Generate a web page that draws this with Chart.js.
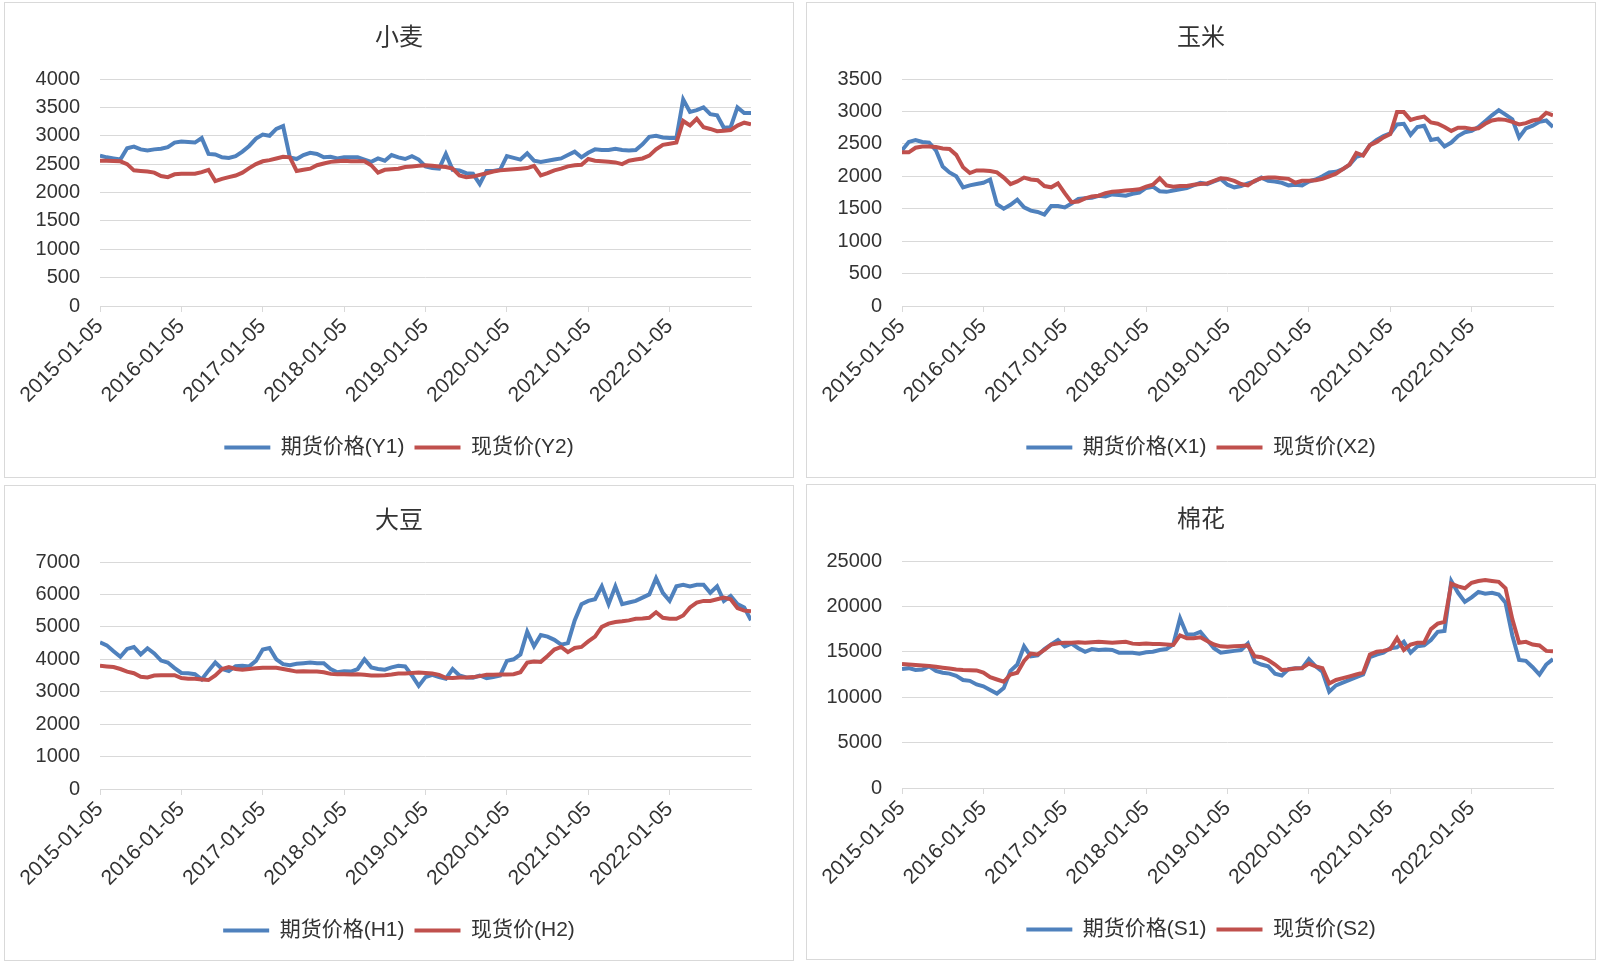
<!DOCTYPE html>
<html>
<head>
<meta charset="utf-8">
<title>期货价格与现货价</title>
<script src="https://cdn.jsdelivr.net/npm/chart.js@4.4.1/dist/chart.umd.min.js"></script>
<style>
  body { margin: 0; background: #fff; width: 1600px; height: 962px; position: relative; overflow: hidden; }
  .panel { position: absolute; width: 788px; height: 474px; border: 1px solid #d9d9d9; background: #fff; }
  .panel canvas { display: block; }
</style>
</head>
<body>
<div class="panel" style="left:4px;top:2px"><canvas id="wheatChart" width="788" height="474"></canvas></div>
<div class="panel" style="left:806px;top:2px"><canvas id="cornChart" width="788" height="474"></canvas></div>
<div class="panel" style="left:4px;top:485px"><canvas id="soyChart" width="788" height="474"></canvas></div>
<div class="panel" style="left:806px;top:484px"><canvas id="cottonChart" width="788" height="474"></canvas></div>

<script>
// x axis: one point per month from 2015-01 to 2023-01 (index 0..96), labels every 12 months
const yearTicks = ['2015-01-05', '2016-01-05', '2017-01-05', '2018-01-05',
                   '2019-01-05', '2020-01-05', '2021-01-05', '2022-01-05'];

// 小麦
const wheatFutures = [
  2650, 2620, 2600, 2580, 2780, 2810, 2760, 2740, 2760, 2770, 2800, 2880,
  2900, 2890, 2880, 2960, 2680, 2670, 2620, 2610, 2640, 2720, 2820, 2950,
  3020, 3000, 3120, 3170, 2620, 2590, 2660, 2700, 2680, 2620, 2630, 2600,
  2620, 2620, 2620, 2580, 2540, 2600, 2560, 2660, 2620, 2590, 2640, 2580,
  2460, 2430, 2420, 2680, 2400, 2390, 2340, 2330, 2150, 2380, 2380, 2400,
  2640, 2610, 2580, 2690, 2560, 2540, 2560, 2580, 2600, 2660, 2720, 2620,
  2700, 2760, 2750, 2750, 2770, 2750, 2740, 2750, 2850, 2980, 3000, 2970,
  2960, 2960, 3640, 3420, 3450, 3500, 3380, 3360, 3140, 3150, 3500, 3400, 3400
];
const wheatSpot = [
  2560, 2560, 2555, 2550, 2500, 2390, 2380, 2370, 2350, 2290, 2270, 2320,
  2330, 2330, 2330, 2360, 2400, 2200, 2240, 2270, 2300, 2350, 2430, 2500,
  2550, 2570, 2600, 2630, 2620, 2380, 2400, 2420, 2480, 2510, 2540, 2550,
  2560, 2550, 2550, 2550, 2480, 2350, 2400, 2410, 2420, 2450, 2460, 2470,
  2480, 2470, 2460, 2450, 2420, 2300, 2270, 2280, 2310, 2340, 2370, 2390,
  2400, 2410, 2420, 2430, 2470, 2300, 2340, 2390, 2420, 2460, 2480, 2490,
  2590, 2560, 2550, 2540, 2530, 2500, 2560, 2580, 2600, 2650, 2760, 2840,
  2860, 2880, 3260, 3180, 3300, 3150, 3120, 3080, 3090, 3100, 3180, 3230, 3200
];

// 玉米
const cornFutures = [
  2400, 2530, 2560, 2530, 2520, 2400, 2150, 2060, 2000, 1830, 1860, 1880,
  1900, 1950, 1570, 1500, 1560, 1640, 1520, 1470, 1450, 1410, 1540, 1540,
  1520, 1580, 1650, 1660, 1670, 1700, 1690, 1720, 1710, 1700, 1730, 1750,
  1820, 1840, 1770, 1760, 1780, 1800, 1820, 1860, 1900, 1880, 1920, 1960,
  1870, 1830, 1850, 1890, 1920, 1980, 1930, 1920, 1900, 1860, 1870, 1860,
  1920, 1950, 2000, 2060, 2070, 2110, 2180, 2300, 2330, 2480, 2560, 2620,
  2660, 2800, 2810, 2640, 2760, 2780, 2560, 2580, 2460, 2520, 2620, 2680,
  2700, 2760, 2850, 2940, 3020, 2950, 2880, 2600, 2740, 2780, 2840, 2860, 2760
];
const cornSpot = [
  2370, 2370, 2440, 2460, 2460, 2450, 2430, 2420, 2330, 2140, 2050, 2090,
  2090, 2080, 2060, 1980, 1880, 1920, 1980, 1950, 1940, 1850, 1830, 1890,
  1740, 1600, 1610, 1660, 1690, 1700, 1740, 1760, 1770, 1780, 1790, 1800,
  1840, 1870, 1970, 1860, 1840, 1850, 1850, 1870, 1880, 1890, 1930, 1970,
  1960, 1930, 1880, 1860, 1930, 1970, 1980, 1980, 1970, 1960, 1900, 1930,
  1930, 1940, 1960, 2000, 2040, 2110, 2180, 2360, 2320, 2480, 2530, 2600,
  2650, 2990, 2990, 2870, 2900, 2920, 2830, 2810, 2760, 2700, 2750, 2750,
  2730, 2740, 2810, 2860, 2880, 2870, 2840, 2800, 2820, 2860, 2880, 2980, 2940
];

// 大豆
const soyFutures = [
  4520, 4430, 4250, 4080, 4320, 4380, 4150, 4340, 4180, 3960, 3900, 3730,
  3580, 3570, 3540, 3380, 3650, 3900, 3700, 3640, 3790, 3800, 3780, 3950,
  4300, 4350, 4000, 3850, 3820, 3860, 3880, 3900, 3880, 3880, 3700, 3600,
  3630, 3620, 3700, 4000, 3750, 3700, 3680, 3750, 3800, 3780, 3500, 3180,
  3450, 3520, 3450, 3400, 3700, 3500, 3440, 3430, 3500, 3420, 3450, 3500,
  3950, 4000, 4150, 4850, 4400, 4750, 4700, 4600, 4450, 4500, 5200, 5700,
  5800, 5850, 6250, 5700, 6250, 5700, 5750, 5800, 5900, 6000, 6500, 6050,
  5800, 6250, 6300, 6250, 6300, 6300, 6050, 6250, 5800, 5950, 5700, 5600, 5200
];
const soySpot = [
  3800, 3780, 3760, 3700, 3620, 3570, 3460, 3440, 3500, 3510, 3510, 3510,
  3420, 3400, 3400, 3380, 3360, 3500, 3700, 3760, 3700, 3680, 3700, 3720,
  3740, 3740, 3740, 3700, 3660, 3620, 3630, 3620, 3620, 3600, 3550, 3540,
  3540, 3530, 3540, 3520, 3500, 3500, 3510, 3530, 3560, 3560, 3580, 3590,
  3580, 3560, 3520, 3430, 3420, 3440, 3440, 3450, 3480, 3520, 3520, 3530,
  3530, 3540, 3600, 3900, 3930, 3920, 4100, 4300, 4380, 4220, 4350, 4380,
  4550, 4700, 5000, 5100, 5150, 5170, 5200, 5250, 5260, 5280, 5450, 5280,
  5250, 5250, 5350, 5600, 5750, 5800, 5800, 5850, 5900, 5850, 5580, 5500, 5480
];

// 棉花
const cottonFutures = [
  13100, 13200, 13000, 13050, 13400, 12900, 12700, 12600, 12350, 11900, 11800, 11400,
  11200, 10800, 10400, 11000, 12900, 13600, 15600, 14500, 14600, 15300, 15800, 16300,
  15600, 15900, 15400, 15000, 15300, 15200, 15250, 15200, 14900, 14900, 14900, 14800,
  14950, 15000, 15200, 15300, 15800, 18700, 16900, 16900, 17200, 16300, 15400, 14900,
  15000, 15100, 15200, 15900, 13900, 13600, 13400, 12600, 12400, 13100, 13200, 13200,
  14200, 13400, 12800, 10600, 11300, 11600, 11900, 12200, 12500, 14400, 14700, 14900,
  15400, 15500, 16100, 14900, 15600, 15700, 16300, 17200, 17300, 22800, 21500, 20500,
  21000, 21600, 21400, 21500, 21300, 20400, 16800, 14100, 14000, 13300, 12500, 13600, 14200
];
const cottonSpot = [
  13650, 13600, 13550, 13500, 13450, 13350, 13250, 13150, 13050, 13000, 12980, 12950,
  12700, 12200, 11950, 11700, 12500, 12700, 14000, 14800, 14700, 15200, 15800, 15950,
  16000, 16000, 16050, 16000, 16050, 16100, 16050, 16000, 16050, 16100, 15900, 15850,
  15900, 15850, 15850, 15800, 15750, 16800, 16500, 16500, 16600, 16200, 15800, 15600,
  15550, 15600, 15650, 15700, 14500, 14400, 14100, 13600, 13000, 13050, 13150, 13200,
  13700, 13400, 13200, 11500, 11900, 12100, 12300, 12500, 12700, 14700, 15000, 15100,
  15300, 16500, 15200, 15800, 16000, 16000, 17500, 18100, 18300, 22500, 22200, 22000,
  22600, 22800, 22900, 22800, 22700, 22000, 18600, 16000, 16100, 15800, 15700, 15100, 15050
];

const BLUE = '#4f81bd';
const RED = '#c0504d';
const GRID = '#d9d9d9';
const TEXT = '#333333';
const LATIN = '"Liberation Sans", Arial, sans-serif';
const CJK = '"Liberation Sans", "Noto Sans CJK SC", sans-serif';

function toPoints(values) {
  return values.map((v, i) => ({ x: i, y: v }));
}

function makeChart(id, title, yMax, yStep, futures, spot, futLabel, spotLabel) {
  const ctx = document.getElementById(id);
  return new Chart(ctx, {
    type: 'line',
    data: {
      datasets: [
        { label: futLabel, data: toPoints(futures), borderColor: BLUE, backgroundColor: BLUE,
          borderWidth: 4, pointRadius: 0, tension: 0, order: 2 },
        { label: spotLabel, data: toPoints(spot), borderColor: RED, backgroundColor: RED,
          borderWidth: 4, pointRadius: 0, tension: 0, order: 1 }
      ]
    },
    options: {
      responsive: false,
      animation: false,
      devicePixelRatio: 1,
      layout: { padding: { left: 0, right: 0, top: 0, bottom: 9 } },
      scales: {
        x: {
          type: 'linear',
          min: 0,
          max: 96,
          afterBuildTicks: scale => {
            scale.ticks = yearTicks.map((_, i) => ({ value: i * 12 }));
          },
          afterFit: scale => { scale.height = 121; },
          grid: { drawOnChartArea: false, drawTicks: true, tickLength: 6, color: GRID },
          border: { color: GRID, width: 1 },
          ticks: {
            autoSkip: false,
            maxRotation: 45,
            minRotation: 45,
            padding: 2,
            color: TEXT,
            font: { family: LATIN, size: 21 },
            callback: value => yearTicks[Math.round(value / 12)]
          }
        },
        y: {
          min: 0,
          max: yMax,
          afterFit: scale => { scale.width = 95; },
          grid: { color: GRID, drawTicks: false },
          border: { display: false },
          ticks: {
            stepSize: yStep, padding: 20, color: TEXT,
            font: { family: LATIN, size: 20 },
            callback: value => String(value)
          }
        },
        // empty right-hand axis: only keeps the plot clear of the right edge
        spacer: {
          type: 'linear',
          position: 'right',
          afterFit: scale => { scale.width = 42; },
          grid: { display: false },
          border: { display: false },
          ticks: { display: false }
        }
      },
      plugins: {
        title: {
          display: true,
          text: title,
          color: TEXT,
          font: { family: CJK, size: 24, weight: 'normal' },
          padding: { top: 20.8, bottom: 26.4 }
        },
        legend: {
          position: 'bottom',
          labels: {
            usePointStyle: true,
            pointStyle: 'line',
            pointStyleWidth: 46,
            padding: 10,
            color: TEXT,
            font: { family: CJK, size: 21 },
            sort: (a, b) => a.datasetIndex - b.datasetIndex
          }
        },
        tooltip: { enabled: false }
      }
    }
  });
}

makeChart('wheatChart', '小麦', 4000, 500, wheatFutures, wheatSpot, '期货价格(Y1)', '现货价(Y2)');
makeChart('cornChart', '玉米', 3500, 500, cornFutures, cornSpot, '期货价格(X1)', '现货价(X2)');
makeChart('soyChart', '大豆', 7000, 1000, soyFutures, soySpot, '期货价格(H1)', '现货价(H2)');
makeChart('cottonChart', '棉花', 25000, 5000, cottonFutures, cottonSpot, '期货价格(S1)', '现货价(S2)');
</script>
</body>
</html>
